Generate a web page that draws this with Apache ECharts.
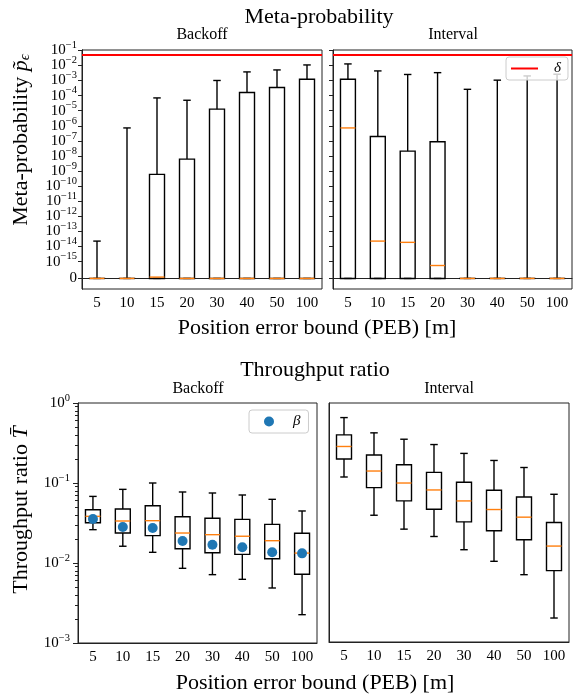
<!DOCTYPE html>
<html><head><meta charset="utf-8">
<script src="https://cdn.jsdelivr.net/npm/echarts@6/dist/echarts.min.js"></script>
<style>html,body{margin:0;padding:0;background:#fff}#c{width:573px;height:694px}</style>
</head><body><div id="c"></div>
<script>
// ---------------- data ----------------
const categories = ['5', '10', '15', '20', '30', '40', '50', '100'];
// rows: [lower whisker, Q1, median, Q3, upper whisker]
const metaBackoff = [
  [0, 0, 0, 0, 2.3e-14],
  [0, 0, 0, 0, 7.2e-7],
  [0, 0, 8e-17, 6e-10, 7e-5],
  [0, 0, 0, 6.2e-9, 4.9e-5],
  [0, 0, 0, 1.26e-5, 1e-3],
  [0, 0, 0, 1.6e-4, 3.7e-3],
  [0, 0, 0, 3.4e-4, 5e-3],
  [0, 0, 0, 1.2e-3, 1.07e-2]
];
const metaInterval = [
  [0, 0, 7.2e-7, 1.2e-3, 1.25e-2],
  [0, 0, 2.3e-14, 1.95e-7, 4.3e-3],
  [0, 0, 1.9e-14, 2.1e-8, 2.5e-3],
  [0, 0, 7.7e-16, 8.7e-8, 3.3e-3],
  [0, 0, 0, 0, 2.6e-4],
  [0, 0, 0, 0, 1.05e-3],
  [0, 0, 0, 0, 2e-3],
  [0, 0, 0, 0, 2.6e-3]
];
const thrBackoff = [
  [0.0261, 0.0319, 0.0383, 0.0464, 0.068],
  [0.0162, 0.0237, 0.0335, 0.0473, 0.0833],
  [0.0136, 0.022, 0.0338, 0.052, 0.1],
  [0.00858, 0.0151, 0.0237, 0.0379, 0.0772],
  [0.00715, 0.01345, 0.0226, 0.0362, 0.075],
  [0.00625, 0.0128, 0.0216, 0.0351, 0.0708],
  [0.00487, 0.0113, 0.019, 0.0304, 0.0625],
  [0.00226, 0.00722, 0.0133, 0.0235, 0.0447]
];
const thrInterval = [
  [0.1178, 0.198, 0.2846, 0.398, 0.656],
  [0.039, 0.0866, 0.14, 0.222, 0.422],
  [0.0261, 0.059, 0.099, 0.168, 0.351],
  [0.0211, 0.0464, 0.081, 0.1346, 0.301],
  [0.0144, 0.0322, 0.059, 0.101, 0.233],
  [0.0103, 0.0249, 0.046, 0.0802, 0.19],
  [0.007, 0.0192, 0.0369, 0.0662, 0.155],
  [0.002, 0.00787, 0.016, 0.0316, 0.0715]
];
const betaBackoff = [0.0355, 0.0282, 0.0274, 0.0188, 0.0169, 0.0157, 0.0136, 0.0132];
const delta = 0.05;
const metaTickExps = [-15, -14, -13, -12, -11, -10, -9, -8, -7, -6, -5, -4, -3, -2, -1];
const thrTickExps = [-3, -2, -1, 0];
const thrMinorTicks = [];
for (let e = -3; e < 0; e++) for (let k = 2; k <= 9; k++) thrMinorTicks.push(k * Math.pow(10, e));

// ---------------- helpers ----------------
const FONT = 'Liberation Serif';
const LINTHRESH = 1e-15, LINSCALE = 1 / (1 - 1 / 10);
function symlog(v) { return v <= LINTHRESH ? v / LINTHRESH * LINSCALE : LINSCALE + Math.log10(v / LINTHRESH); }
const metaTicks = [0].concat(metaTickExps.map(e => symlog(Math.pow(10, e))));
// split alternate ticks over two overlaid axes so labels never collide
const metaTicksA = metaTicks.filter((v, k) => k === 0 || k % 2 === 0);
const metaTicksB = metaTicks.filter((v, k) => k % 2 === 1);
const rich = {
  b: { fontSize: 15, fontFamily: FONT, color: '#000', verticalAlign: 'middle', lineHeight: 21 },
  s: { fontSize: 10.5, fontFamily: FONT, color: '#000', verticalAlign: 'top', lineHeight: 9 }
};
function metaFmt(v) {
  if (v < 0.5) return '{b|0}';
  const e = Math.round(v - LINSCALE) - 15;
  return '{b|10}{s|−' + (-e) + '}';
}
function thrFmt(v) {
  const e = Math.round(Math.log10(v));
  return '{b|10}{s|' + (e < 0 ? '−' + (-e) : e) + '}';
}
function boxRender(params, api) {
  const i = api.value(0);
  const lo = api.coord([i, api.value(1)]);
  const q1 = api.coord([i, api.value(2)]);
  const md = api.coord([i, api.value(3)]);
  const q3 = api.coord([i, api.value(4)]);
  const hi = api.coord([i, api.value(5)]);
  const bw = api.size([1, 0])[0] * 0.5;
  const cx = lo[0];
  const st = { stroke: '#000', lineWidth: 1.4, fill: 'none' };
  return { type: 'group', children: [
    { type: 'line', shape: { x1: cx, y1: q3[1], x2: cx, y2: hi[1] }, style: st },
    { type: 'line', shape: { x1: cx, y1: q1[1], x2: cx, y2: lo[1] }, style: st },
    { type: 'line', shape: { x1: cx - bw / 4, y1: hi[1], x2: cx + bw / 4, y2: hi[1] }, style: st },
    { type: 'line', shape: { x1: cx - bw / 4, y1: lo[1], x2: cx + bw / 4, y2: lo[1] }, style: st },
    { type: 'rect', shape: { x: cx - bw / 2, y: q3[1], width: bw, height: Math.max(q1[1] - q3[1], 0.01) }, style: st },
    { type: 'line', shape: { x1: cx - bw / 2, y1: md[1], x2: cx + bw / 2, y2: md[1] }, style: { stroke: '#ff7f0e', lineWidth: 1.4 } }
  ] };
}
function boxData(rows, tf) { return rows.map((r, i) => [i].concat(r.map(tf))); }

const grids = [
  { left: 82, top: 50, width: 240, height: 239 },
  { left: 333, top: 50, width: 239, height: 239 },
  { left: 78, top: 403, width: 239, height: 240 },
  { left: 329, top: 403, width: 240, height: 239 }
].map(g => Object.assign(g, { show: true, borderColor: '#222', borderWidth: 1, backgroundColor: 'transparent' }));

const xAxis = [0, 1, 2, 3].map(k => ({
  type: 'category', gridIndex: k, data: categories, boundaryGap: true,
  axisLine: { lineStyle: { color: '#222', width: 1 } },
  axisTick: { alignWithLabel: true, length: 4, lineStyle: { color: '#222' } },
  axisLabel: { color: '#000', fontSize: 15, fontFamily: FONT, margin: 7, interval: 0 },
  splitLine: { show: false }
}));

function metaAxis(grid, ticks, showLabels) {
  return { type: 'value', gridIndex: grid, min: -0.7, max: 15.13, position: 'left', offset: 0,
    axisLine: { show: true, lineStyle: { color: '#222' } },
    axisTick: { show: true, length: 4, customValues: ticks, lineStyle: { color: '#222' } },
    axisLabel: { show: showLabels, customValues: ticks, formatter: metaFmt, rich: rich, margin: 5, showMaxLabel: true, showMinLabel: true },
    splitLine: { show: false } };
}
const yAxis = [
  metaAxis(0, metaTicksA, true),
  metaAxis(1, metaTicks, false),
  { type: 'log', logBase: 10, gridIndex: 2, min: 0.001, max: 1, position: 'left',
    axisLine: { show: true, lineStyle: { color: '#222' } },
    axisTick: { show: true, length: 5, customValues: thrTickExps.map(e => Math.pow(10, e)), lineStyle: { color: '#222' } },
    axisLabel: { show: true, customValues: thrTickExps.map(e => Math.pow(10, e)), formatter: thrFmt, rich: rich, margin: 8, showMaxLabel: true, showMinLabel: true },
    splitLine: { show: false } },
  { type: 'log', logBase: 10, gridIndex: 2, min: 0.001, max: 1, position: 'left', offset: 0,
    axisLine: { show: false },
    axisTick: { show: true, length: 3, customValues: thrMinorTicks, lineStyle: { color: '#222' } },
    axisLabel: { show: false },
    splitLine: { show: false } },
  { type: 'log', logBase: 10, gridIndex: 3, min: 0.001, max: 1, position: 'left',
    axisLine: { show: true, lineStyle: { color: '#222' } },
    axisTick: { show: false }, axisLabel: { show: false }, splitLine: { show: false } },
  metaAxis(0, metaTicksB, true)
];

const deltaLine = {
  silent: true, symbol: ['none', 'none'], label: { show: false },
  lineStyle: { color: '#ff0000', width: 2, type: 'solid' },
  emphasis: { disabled: true },
  data: [{ yAxis: symlog(delta) }]
};

const series = [
  { type: 'custom', xAxisIndex: 0, yAxisIndex: 0, renderItem: boxRender, data: boxData(metaBackoff, symlog), encode: { x: 0, y: [1, 2, 3, 4, 5] }, z: 2 },
  { type: 'custom', xAxisIndex: 1, yAxisIndex: 1, renderItem: boxRender, data: boxData(metaInterval, symlog), encode: { x: 0, y: [1, 2, 3, 4, 5] }, z: 2 },
  { type: 'custom', xAxisIndex: 2, yAxisIndex: 2, renderItem: boxRender, data: boxData(thrBackoff, v => v), encode: { x: 0, y: [1, 2, 3, 4, 5] }, z: 2 },
  { type: 'custom', xAxisIndex: 3, yAxisIndex: 4, renderItem: boxRender, data: boxData(thrInterval, v => v), encode: { x: 0, y: [1, 2, 3, 4, 5] }, z: 2 },
  { name: 'δ', type: 'line', xAxisIndex: 0, yAxisIndex: 0, data: [], color: '#ff0000', symbol: 'none', markLine: deltaLine, z: 3 },
  { name: 'δ', type: 'line', xAxisIndex: 1, yAxisIndex: 1, data: [], color: '#ff0000', symbol: 'none', markLine: deltaLine, z: 3 },
  { name: 'β', type: 'scatter', xAxisIndex: 2, yAxisIndex: 2, data: betaBackoff.map((b, i) => [i, b]), color: '#1f77b4', symbol: 'circle', symbolSize: 10, z: 4, itemStyle: { opacity: 1 } }
];

const legendBase = {
  orient: 'horizontal', selectedMode: false, borderColor: '#cccccc', borderWidth: 1, borderRadius: 3,
  backgroundColor: 'rgba(255,255,255,0.8)', z: 10,
  textStyle: { fontFamily: FONT, fontStyle: 'italic', fontSize: 15, color: '#000' }
};
const legend = [
  Object.assign({}, legendBase, { data: [{ name: 'δ', icon: 'rect' }], left: 506, top: 57, itemWidth: 27, itemHeight: 2,
    padding: [4, 7, 4, 5], textStyle: Object.assign({}, legendBase.textStyle, { padding: [0, 0, 0, 11] }) }),
  Object.assign({}, legendBase, { data: [{ name: 'β', icon: 'circle' }], left: 249, top: 410, itemWidth: 10, itemHeight: 10,
    padding: [4, 8, 4, 15], textStyle: Object.assign({}, legendBase.textStyle, { padding: [0, 0, 0, 14] }) })
];

function txt(x, y, text, size, extra) {
  return Object.assign({ type: 'text', x: x, y: y, style: { text: text, fontFamily: FONT, fontSize: size, fill: '#000', textAlign: 'center', textVerticalAlign: 'middle' } }, extra || {});
}
const graphic = [
  txt(319, 17, 'Meta-probability', 22),
  txt(202, 35, 'Backoff', 16),
  txt(453, 35, 'Interval', 16),
  txt(317, 328, 'Position error bound (PEB) [m]', 22),
  txt(315, 370, 'Throughput ratio', 22),
  txt(198, 389, 'Backoff', 16),
  txt(449, 389, 'Interval', 16),
  txt(315, 683, 'Position error bound (PEB) [m]', 22),
  { type: 'text', x: 21, y: 140, rotation: Math.PI / 2, style: {
      text: '{a|Meta-probability }{i|p̃}{s|ϵ}', textAlign: 'center', textVerticalAlign: 'middle',
      rich: { a: { fontFamily: FONT, fontSize: 22, fill: '#000', verticalAlign: 'middle' },
              i: { fontFamily: FONT, fontSize: 22, fontStyle: 'italic', fill: '#000', verticalAlign: 'middle' },
              s: { fontFamily: FONT, fontSize: 15, fontStyle: 'italic', fill: '#000', verticalAlign: 'middle', padding: [9, 0, 0, 0] } } } },
  { type: 'text', x: 21, y: 510, rotation: Math.PI / 2, style: {
      text: '{a|Throughput ratio }{i|T̄}', textAlign: 'center', textVerticalAlign: 'middle',
      rich: { a: { fontFamily: FONT, fontSize: 22, fill: '#000', verticalAlign: 'middle' },
              i: { fontFamily: FONT, fontSize: 22, fontStyle: 'italic', fill: '#000', verticalAlign: 'middle' } } } }
];

const chart = echarts.init(document.getElementById('c'), null, { renderer: 'canvas' });
chart.setOption({ animation: false, backgroundColor: '#fff', grid: grids, xAxis: xAxis, yAxis: yAxis, series: series, legend: legend, graphic: graphic });
</script></body></html>
